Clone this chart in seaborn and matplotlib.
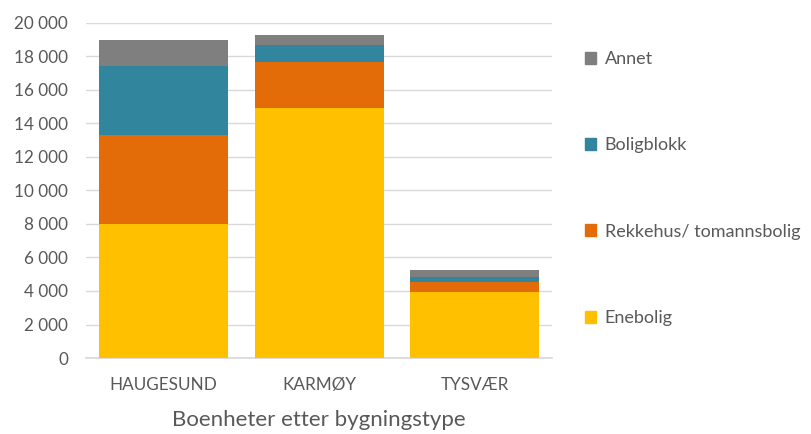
import matplotlib
matplotlib.use("Agg")
import matplotlib.pyplot as plt
import seaborn as sns
import pandas as pd
from matplotlib.patches import Patch
from matplotlib.ticker import FuncFormatter

categories = ["HAUGESUND", "KARMØY", "TYSVÆR"]
series_names = ["Enebolig", "Rekkehus/ tomannsbolig", "Boligblokk", "Annet"]
enebolig = [7970, 14930, 3940]
rekkehus = [5350, 2720, 610]
boligblokk = [4110, 1010, 280]
annet = [1520, 620, 400]
colors = ["#FFC000", "#E36C09", "#31859C", "#7F7F7F"]

values = [enebolig, rekkehus, boligblokk, annet]

sns.set_theme(style="white")
plt.rcParams["font.family"] = ["Lato", "DejaVu Sans"]

fig = plt.figure(figsize=(8.11, 4.34), dpi=100)
ax = fig.add_axes([0.106, 0.175, 0.575, 0.773])

bottom = [0, 0, 0]
for name, vals, col in zip(series_names, values, colors):
    df = pd.DataFrame({"kommune": categories, "antall": vals})
    sns.barplot(data=df, x="kommune", y="antall", color=col, bottom=bottom,
                width=0.83, ax=ax, saturation=1, zorder=3, linewidth=0)
    bottom = [b + v for b, v in zip(bottom, vals)]

ax.set_ylim(0, 20000)
ax.set_yticks(range(0, 20001, 2000))
ax.yaxis.set_major_formatter(FuncFormatter(lambda v, p: f"{int(v):,}".replace(",", " ")))
ax.grid(axis="y", color="#D9D9D9", linewidth=1, zorder=0)
for s in ["top", "right", "left"]:
    ax.spines[s].set_visible(False)
ax.spines["bottom"].set_color("#D9D9D9")
ax.tick_params(axis="both", length=0, colors="#595959", labelsize=12.3)
ax.tick_params(axis="x", pad=14)
ax.tick_params(axis="y", pad=13)
ax.set_ylabel("")
ax.set_xlabel("Boenheter etter bygningstype", fontsize=16, color="#595959", labelpad=12)

handles = [Patch(facecolor=c, edgecolor=c) for c in colors[::-1]]
labels = series_names[::-1]
leg = fig.legend(handles, labels, loc="upper left", bbox_to_anchor=(0.701, 0.920),
                 frameon=False, fontsize=13, labelspacing=3.9, handlelength=0.65,
                 handleheight=0.65, handletextpad=0.45, labelcolor="#595959")

fig.savefig("out.png", dpi=100)
